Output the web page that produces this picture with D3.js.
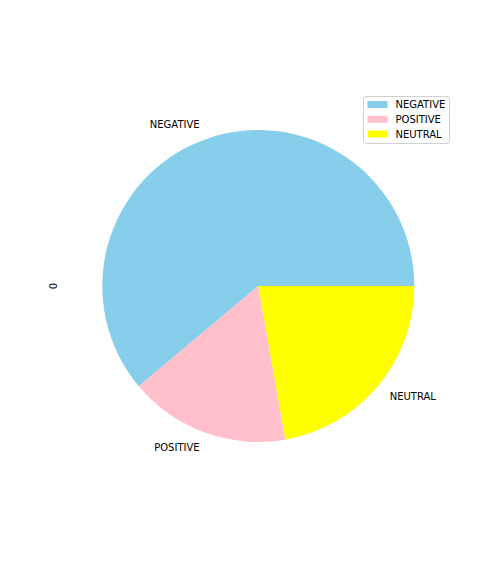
<!DOCTYPE html>
<html><head><meta charset="utf-8">
<script src="https://cdn.jsdelivr.net/npm/d3@7"></script>
<style>body{margin:0;background:#fff}svg{display:block}text{font-family:"DejaVu Sans",sans-serif;font-size:10px;fill:#000}</style>
</head><body>
<script>
const categories = ["NEGATIVE", "POSITIVE", "NEUTRAL"];
const counts = [1100, 300, 400];
const colors = ["skyblue", "pink", "yellow"];
const yLabel = "0";

const W = 504, H = 576, cx = 258.3, cy = 286, r = 156;
const svg = d3.select("body").append("svg").attr("width", W).attr("height", H);
const data = categories.map((c, i) => ({c, v: counts[i], col: colors[i]}));

// matplotlib: start at 3 o'clock, counterclockwise -> d3 angle = PI/2 - theta
const pie = d3.pie().value(d => d.v).sort(null).startAngle(Math.PI/2).endAngle(Math.PI/2 - 2*Math.PI);
const arcs = pie(data);
const arc = d3.arc().innerRadius(0).outerRadius(r);
const g = svg.append("g").attr("transform", `translate(${cx},${cy})`);
g.selectAll("path").data(arcs).join("path").attr("d", arc).attr("fill", d => d.data.col);

g.selectAll("text.lbl").data(arcs).join("text").attr("class","lbl")
  .each(function(d){
    const mid = (d.startAngle + d.endAngle)/2;
    const x = 1.1*r*Math.sin(mid), y = -1.1*r*Math.cos(mid);
    d3.select(this).attr("x", x).attr("y", y).attr("dy","0.35em")
      .attr("text-anchor", x > 0 ? "start" : "end").text(d.data.c);
  });

svg.append("text").attr("transform", `translate(57,${cy}) rotate(-90)`)
  .attr("text-anchor","middle").text(yLabel);

// legend
const lg = svg.append("g");
lg.append("rect").attr("x",363.5).attr("y",96.5).attr("width",86).attr("height",47).attr("rx",2.5)
  .attr("fill","#fff").attr("fill-opacity",0.8).attr("stroke","#d0d0d0").attr("stroke-width",1);
const rowY = d3.scaleOrdinal().domain(categories).range([104.5, 119.3, 134]);
categories.forEach((c,i) => {
  lg.append("rect").attr("x",367.5).attr("y",rowY(c)-3.5).attr("width",20).attr("height",7).attr("fill",colors[i]);
  lg.append("text").attr("x",395.5).attr("y",rowY(c)).attr("dy","0.35em").text(c);
});
</script>
</body></html>
